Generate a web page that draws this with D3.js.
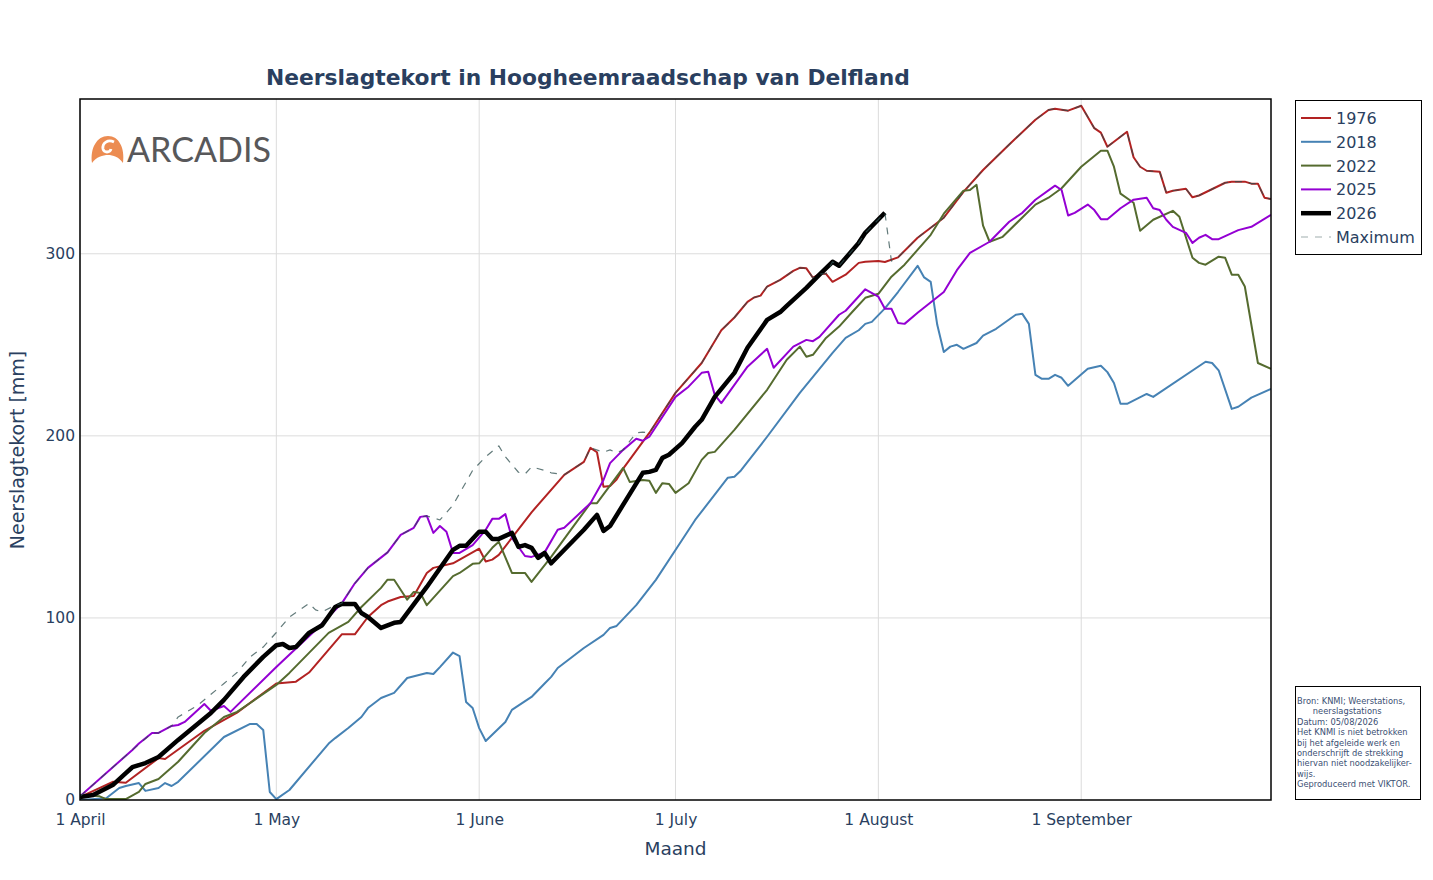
<!DOCTYPE html>
<html>
<head>
<meta charset="utf-8">
<script src="https://cdn.jsdelivr.net/npm/d3@7"></script>
<style>
    body { margin: 0; background: #fff; }
    svg { font-family: "DejaVu Sans", Verdana, sans-serif; }
</style>
</head>
<body>
<div id="chart"></div>
<script>
// day offsets from 1 April, value in mm
const s1976 = [[0,1.6],[5,10],[7,9.5],[12,23],[13,22.5],[19,38],[24,48],[30,64],[33,65],[35,70],[40,91],[42,91],[44,100.5],[46,107],[47,109],[49,111.5],[51,112],[53,124.7],[54,127.5],[57,130],[61,138],[62,131],[63,132],[64,134.6],[69,158],[74,178.6],[77,185.7],[78,193.4],[79,191],[80,172],[81,172.5],[82,176],[83,182],[87,201.6],[91,223.6],[95,240],[98,258],[100,265],[102,273.6],[103,276],[104,277],[105,282],[107,285.7],[109,290.6],[110,292.3],[111,292],[112,286.8],[113,289],[114,289],[115,284.6],[117,288.5],[119,295],[120,295.6],[122,296],[123,295.5],[125,298],[128,308.8],[132,319.8],[135,334],[138,346],[142,360],[146,373.6],[148,379],[149,379.7],[151,378.6],[153,381.3],[155,369],[156,366.5],[157,358.8],[160,367],[161,353],[162,347.8],[163,345.6],[165,345],[166,333.5],[167,334.6],[169,335.7],[170,331],[171,332],[175,339],[176,339.6],[178,339.6],[179,338.5],[180,338.5],[181,330.8],[182,330]];
const s2018 = [[0,0],[4,1],[6,6.6],[7,7.7],[9,9.3],[10,5],[12,6.6],[13,9.3],[14,7.7],[15,10],[22,34.6],[26,41.8],[27,41.8],[28,38.5],[29,4.4],[30,0.5],[32,5.5],[38,31],[39,34],[41,39.5],[43,45.6],[44,50.5],[46,56],[48,58.8],[50,67],[53,69.8],[54,69.2],[55,73],[57,81],[58,79],[59,53.8],[60,50.5],[61,39.5],[62,32.4],[65,42.8],[66,49.5],[69,56.6],[71,64],[72,67.6],[73,72.5],[77,83.5],[80,90.7],[81,94.5],[82,95.6],[85,107],[88,120.9],[92,142.8],[94,153.8],[99,177],[100,177.5],[101,181],[105,199.5],[110,223.6],[115,245.6],[117,253.8],[119,258],[120,261.5],[121,262.6],[123,270],[125,279],[128,293.4],[129,287],[130,284.6],[131,261],[132,246],[133,249],[134,250],[135,247.8],[137,251],[138,255],[140,258.8],[143,266.5],[144,267],[145,261.5],[146,233.5],[147,231.3],[148,231.3],[149,233.5],[150,231.9],[151,227.5],[154,236.8],[156,238.5],[157,235],[158,229],[159,217.6],[160,217.6],[163,223],[164,221.4],[172,240.7],[173,240],[174,236],[176,214.8],[177,216],[179,221],[182,225.8]];
const s2022 = [[0,2.7],[3,2],[4,0.5],[7,0.5],[9,4.4],[10,8.8],[12,11.5],[15,21],[19,36.8],[22,45.6],[24,48.4],[26,53.3],[30,63.2],[32,69.8],[35,80.8],[38,91.8],[41,97.8],[43,106],[46,116.5],[47,121],[48,121],[50,110],[51,114.3],[52,113.7],[53,107],[57,123],[58,124.7],[60,129.7],[61,130],[63,138.5],[64,141.8],[66,124.7],[68,124.7],[69,119.8],[72,133.5],[75,148.4],[78,163],[79,163],[83,182.4],[84,174.7],[86,175.8],[87,175.3],[88,168.7],[89,174],[90,173.6],[91,168.7],[93,174],[95,186.8],[96,190.6],[97,191.2],[100,203.3],[105,225.3],[108,241.8],[110,249],[111,243.4],[112,244.5],[114,253.8],[116,260],[118,268],[120,275.8],[122,278],[124,287.4],[126,294],[130,310.4],[132,322],[135,334.6],[136,335],[137,337.9],[138,315.4],[139,306.6],[141,309.3],[146,327],[148,330.8],[150,336],[153,347.8],[156,356.6],[157,356.6],[158,347.8],[159,333],[161,328],[162,312.6],[164,318.7],[167,323.6],[168,320.3],[170,297.8],[171,295],[172,294],[174,298.4],[175,297.8],[176,288.5],[177,288.5],[178,282],[180,240],[182,236.8]];
const s2025 = [[0,2],[8,27.5],[9,31],[11,36.8],[12,36.8],[14,40.7],[15,41.2],[16,42.9],[19,52.7],[20,49],[22,51.6],[23,48.4],[30,73],[36,93.4],[40,108],[42,119],[44,127.5],[47,136],[49,145.6],[51,149.5],[52,155.5],[53,156],[54,146.7],[55,150.5],[56,147.3],[57,135.7],[58,135.7],[60,140],[62,148.4],[63,154.4],[64,154.4],[65,157],[66,144],[68,134],[69,133.5],[71,136],[73,148.4],[74,149.5],[78,163],[80,175.8],[81,185],[83,192.3],[85,198.4],[86,197.3],[87,199.5],[91,221.4],[93,227],[95,234.6],[96,235.2],[97,222.5],[98,218],[102,238],[105,247.8],[106,237.4],[109,249],[111,252.7],[112,252],[113,254.4],[116,266.5],[117,268.7],[120,280.5],[122,276.4],[123,269.8],[124,269.8],[125,262],[126,261.5],[128,267.6],[132,279],[134,291],[136,300.5],[139,306.6],[142,317.6],[144,322.5],[146,329.7],[149,337.4],[150,335],[151,321],[152,322.5],[154,327],[155,324],[156,319],[157,319],[159,325],[161,329.7],[163,330.8],[164,325],[165,324],[166,318.7],[167,314.8],[169,311.5],[170,306],[171,308.8],[172,310.4],[173,308],[174,308],[177,313],[179,314.8],[182,321.4]];
const s2026 = [[0,1.6],[2,2.7],[5,8.2],[7,14.8],[8,18],[10,20.3],[12,23.6],[15,33],[20,47.8],[22,55],[25,67.6],[28,78.6],[30,85],[31,85.7],[32,83.5],[33,84],[35,91.8],[37,96],[39,106],[40,107.7],[42,107.7],[43,102.7],[44,100.5],[46,94.5],[48,97.3],[49,97.8],[53,117],[57,137.4],[58,139.6],[59,139.6],[61,147.3],[62,147.3],[63,143.4],[64,143.4],[66,146.7],[67,139],[68,140],[69,138.5],[70,133],[71,135.7],[72,130],[77,148.4],[79,156.6],[80,147.8],[81,150.5],[86,179.7],[87,180.2],[88,181.3],[89,187.9],[90,189.6],[92,196],[94,205],[95,208.8],[97,221.4],[100,234.6],[102,248.4],[105,263.7],[107,268],[108,271.4],[111,281.3],[113,288.5],[115,295.6],[116,293.4],[119,306],[120,311.5],[123,322.5]];
const sMax = [[0,2],[8,27.5],[11,36.8],[12,36.8],[14,40.7],[15,45.6],[18,52],[22,64],[24,70],[26,78.6],[28,84],[30,92],[32,100.5],[35,108],[36,104.4],[37,103.3],[39,107],[40,108],[42,119],[44,127.5],[47,136],[49,145.6],[51,149.5],[52,155.5],[53,156],[55,153.8],[57,162],[60,181],[62,188.5],[64,194.5],[65,188.5],[67,180],[68,179],[69,183],[71,181],[72,179.7],[74,178.6],[77,185.7],[78,193.4],[80,191],[81,192.3],[82,190.6],[83,192.3],[85,201.6],[86,202],[87,201.6],[91,223.6],[95,240],[98,258],[100,265],[102,273.6],[103,276],[104,277],[105,282],[107,285.7],[109,290.6],[110,292.3],[111,292],[112,286.8],[113,289],[114,289],[115,295.6],[116,293.4],[119,306],[120,311.5],[123,322.5],[124,296],[125,298],[128,308.8],[132,319.8],[135,334],[138,346],[142,360],[146,373.6],[148,379],[149,379.7],[151,378.6],[153,381.3],[155,369],[156,366.5],[157,358.8],[160,367],[161,353],[162,347.8],[163,345.6],[165,345],[166,333.5],[167,334.6],[169,335.7],[170,331],[171,332],[175,339],[176,339.6],[178,339.6],[179,338.5],[180,338.5],[181,330.8],[182,330]];

const seriesNames = ['1976', '2018', '2022', '2025', '2026', 'Maximum'];
const yTicks = [0, 100, 200, 300];
const monthTicks = ['1 April', '1 May', '1 June', '1 July', '1 August', '1 September'];
const sourceLines = ['Bron: KNMI; Weerstations,', '      neerslagstations', 'Datum: 05/08/2026', 'Het KNMI is niet betrokken', 'bij het afgeleide werk en', 'onderschrijft de strekking', 'hiervan niet noodzakelijker-', 'wijs.', 'Geproduceerd met VIKTOR.'];

const styles = {
    '1976': { color: '#b22222', width: 2 },
    '2018': { color: '#4682b4', width: 2 },
    '2022': { color: '#556b2f', width: 2 },
    '2025': { color: '#9400d3', width: 2 },
    '2026': { color: '#000000', width: 4.5 },
    'Maximum': { color: '#2f4f4f', width: 1.2, dash: '7,7', opacity: 0.75 }
};

const width = 1433, height = 880;
const plotLeft = 80, plotRight = 1271, plotTop = 99, plotBottom = 800;
const textColor = '#2a3f5f';

const start = Date.UTC(2026, 3, 1);
const toDate = d => new Date(start + d * 864e5);

const svg = d3.select('#chart').append('svg')
    .attr('width', width)
    .attr('height', height);

const x = d3.scaleUtc()
    .domain([toDate(0), toDate(182)])
    .range([plotLeft, plotRight]);
const y = d3.scaleLinear()
    .domain([0, 385])
    .range([plotBottom, plotTop]);

const monthDates = [0, 30, 61, 91, 122, 153].map(toDate);

// grid
svg.append('g')
    .selectAll('line')
    .data(monthDates)
    .join('line')
    .attr('x1', d => x(d)).attr('x2', d => x(d))
    .attr('y1', plotTop).attr('y2', plotBottom)
    .attr('stroke', '#dcdcdc').attr('stroke-width', 1);
svg.append('g')
    .selectAll('line')
    .data(yTicks.slice(1))
    .join('line')
    .attr('x1', plotLeft).attr('x2', plotRight)
    .attr('y1', d => y(d)).attr('y2', d => y(d))
    .attr('stroke', '#dcdcdc').attr('stroke-width', 1);

// axes
const xAxis = svg.append('g')
    .attr('transform', `translate(0, ${plotBottom})`)
    .call(d3.axisBottom(x).tickValues(monthDates).tickSize(0).tickPadding(14)
        .tickFormat((d, i) => monthTicks[i]));
const yAxis = svg.append('g')
    .attr('transform', `translate(${plotLeft}, 0)`)
    .call(d3.axisLeft(y).tickValues(yTicks).tickSize(0).tickPadding(5));
[xAxis, yAxis].forEach(a => {
    a.select('.domain').remove();
    a.selectAll('text')
        .attr('fill', textColor)
        .style('font-size', '15.5px')
        .style('font-family', '"DejaVu Sans", Verdana, sans-serif');
});

// logo
const logo = svg.append('g');
logo.append('path')
    .attr('d', 'M92,163 C90,148 97,136 108,136 C119,136 125,148 123,163 C119,157 113,155 108,155 C103,155 96,157 92,163 Z')
    .attr('fill', '#ec8c52');
logo.append('path')
    .attr('d', 'M114,142 C108,139 102,143 103,149 C104,153 110,153 111,149')
    .attr('fill', 'none').attr('stroke', '#fff').attr('stroke-width', 2.8);
logo.append('text')
    .attr('x', 127).attr('y', 162)
    .attr('textLength', 144).attr('lengthAdjust', 'spacingAndGlyphs')
    .style('font-family', 'Lato, "Open Sans", sans-serif')
    .style('font-size', '35px')
    .attr('fill', '#58585a')
    .text('ARCADIS');

// lines
const line = d3.line()
    .x(d => x(toDate(d[0])))
    .y(d => y(d[1]));
const allSeries = [s1976, s2018, s2022, s2025, s2026, sMax];

svg.append('defs').append('clipPath').attr('id', 'clip')
    .append('rect').attr('x', plotLeft).attr('y', plotTop)
    .attr('width', plotRight - plotLeft).attr('height', plotBottom - plotTop);

const plot = svg.append('g').attr('clip-path', 'url(#clip)');
allSeries.forEach((s, i) => {
    const st = styles[seriesNames[i]];
    plot.append('path')
        .datum(s)
        .attr('d', line)
        .attr('fill', 'none')
        .attr('stroke', st.color)
        .attr('stroke-width', st.width)
        .attr('stroke-dasharray', st.dash || null)
        .attr('opacity', st.opacity || 1)
        .attr('stroke-linejoin', 'round');
});

// frame
svg.append('rect')
    .attr('x', plotLeft).attr('y', plotTop)
    .attr('width', plotRight - plotLeft).attr('height', plotBottom - plotTop)
    .attr('fill', 'none').attr('stroke', '#000').attr('stroke-width', 1.5);

// titles
svg.append('text')
    .attr('x', 266).attr('y', 85)
    .attr('fill', textColor)
    .style('font-size', '21.8px').style('font-weight', 'bold')
    .text('Neerslagtekort in Hoogheemraadschap van Delfland');
svg.append('text')
    .attr('x', (plotLeft + plotRight) / 2).attr('y', 855)
    .attr('text-anchor', 'middle')
    .attr('fill', textColor)
    .style('font-size', '18.5px')
    .text('Maand');
svg.append('text')
    .attr('transform', 'translate(24, 450) rotate(-90)')
    .attr('text-anchor', 'middle')
    .attr('fill', textColor)
    .style('font-size', '19px')
    .text('Neerslagtekort [mm]');

// legend
const legend = svg.append('g');
legend.append('rect')
    .attr('x', 1295.5).attr('y', 100.5).attr('width', 126).attr('height', 154)
    .attr('fill', '#fff').attr('stroke', '#000').attr('stroke-width', 1);
seriesNames.forEach((name, i) => {
    const st = styles[name];
    const ly = 118 + i * 23.8;
    legend.append('line')
        .attr('x1', 1301).attr('x2', 1331).attr('y1', ly).attr('y2', ly)
        .attr('stroke', st.color)
        .attr('stroke-width', st.width)
        .attr('stroke-dasharray', st.dash || null)
        .attr('opacity', name === 'Maximum' ? 0.45 : 1);
    legend.append('text')
        .attr('x', 1336).attr('y', ly + 6)
        .attr('fill', textColor)
        .style('font-size', '16px')
        .text(name);
});

// source note
const note = svg.append('g');
note.append('rect')
    .attr('x', 1295.5).attr('y', 686.5).attr('width', 125).attr('height', 113)
    .attr('fill', '#fff').attr('stroke', '#000').attr('stroke-width', 1);
sourceLines.forEach((t, i) => {
    note.append('text')
        .attr('x', 1297).attr('y', 704 + i * 10.4)
        .attr('fill', '#3b4f73')
        .style('font-size', '8.3px')
        .style('white-space', 'pre')
        .text(t);
});
</script>
</body>
</html>
